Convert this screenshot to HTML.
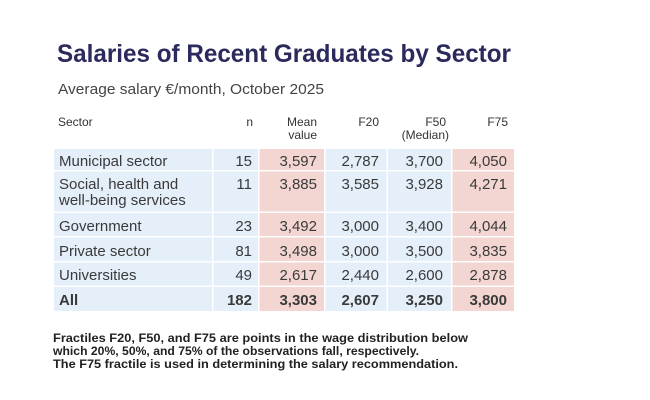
<!DOCTYPE html>
<html><head><meta charset="utf-8"><style>
html,body{margin:0;padding:0;background:#fff;}
svg{display:block}
text{font-family:"Liberation Sans",sans-serif;}
</style></head><body>
<svg width="650" height="400" viewBox="0 0 650 400" xmlns="http://www.w3.org/2000/svg">
<rect width="650" height="400" fill="#fff"/>
<text x="57" y="62" font-size="25" font-weight="bold" fill="#2b2a5c" textLength="454" lengthAdjust="spacingAndGlyphs">Salaries of Recent Graduates by Sector</text>
<text x="58" y="94" font-size="15" fill="#444" textLength="266" lengthAdjust="spacingAndGlyphs">Average salary €/month, October 2025</text>
<g font-size="12" fill="#333">
<text x="58" y="126">Sector</text>
<text x="253" y="126" text-anchor="end">n</text>
<text x="317" y="126" text-anchor="end">Mean</text>
<text x="317" y="139" text-anchor="end">value</text>
<text x="379" y="126" text-anchor="end">F20</text>
<text x="446" y="126" text-anchor="end">F50</text>
<text x="449" y="139" text-anchor="end">(Median)</text>
<text x="508" y="126" text-anchor="end">F75</text>
</g>
<g>
<!-- rows: y ranges -->
<g fill="#e4eff9">
<rect x="54" y="149" width="158" height="21"/><rect x="213.5" y="149" width="44.5" height="21"/><rect x="325.5" y="149" width="61" height="21"/><rect x="388" y="149" width="63" height="21"/>
<rect x="54" y="171.5" width="158" height="40"/><rect x="213.5" y="171.5" width="44.5" height="40"/><rect x="325.5" y="171.5" width="61" height="40"/><rect x="388" y="171.5" width="63" height="40"/>
<rect x="54" y="213" width="158" height="23"/><rect x="213.5" y="213" width="44.5" height="23"/><rect x="325.5" y="213" width="61" height="23"/><rect x="388" y="213" width="63" height="23"/>
<rect x="54" y="237.5" width="158" height="23.5"/><rect x="213.5" y="237.5" width="44.5" height="23.5"/><rect x="325.5" y="237.5" width="61" height="23.5"/><rect x="388" y="237.5" width="63" height="23.5"/>
<rect x="54" y="262.5" width="158" height="23"/><rect x="213.5" y="262.5" width="44.5" height="23"/><rect x="325.5" y="262.5" width="61" height="23"/><rect x="388" y="262.5" width="63" height="23"/>
<rect x="54" y="287" width="158" height="24"/><rect x="213.5" y="287" width="44.5" height="24"/><rect x="325.5" y="287" width="61" height="24"/><rect x="388" y="287" width="63" height="24"/>
</g>
<g fill="#f3d6d1">
<rect x="259.5" y="149" width="64.5" height="21"/><rect x="452.5" y="149" width="61.5" height="21"/>
<rect x="259.5" y="171.5" width="64.5" height="40"/><rect x="452.5" y="171.5" width="61.5" height="40"/>
<rect x="259.5" y="213" width="64.5" height="23"/><rect x="452.5" y="213" width="61.5" height="23"/>
<rect x="259.5" y="237.5" width="64.5" height="23.5"/><rect x="452.5" y="237.5" width="61.5" height="23.5"/>
<rect x="259.5" y="262.5" width="64.5" height="23"/><rect x="452.5" y="262.5" width="61.5" height="23"/>
<rect x="259.5" y="287" width="64.5" height="24"/><rect x="452.5" y="287" width="61.5" height="24"/>
</g>
</g>
<g font-size="15" fill="#3a3a3a">
<text x="59" y="166">Municipal sector</text>
<text x="59" y="189">Social, health and</text>
<text x="59" y="205">well-being services</text>
<text x="59" y="231">Government</text>
<text x="59" y="256">Private sector</text>
<text x="59" y="280">Universities</text>
<text x="59" y="305" font-weight="bold">All</text>
<g text-anchor="end">
<text x="252" y="166">15</text><text x="317" y="166">3,597</text><text x="379" y="166">2,787</text><text x="443" y="166">3,700</text><text x="507" y="166">4,050</text>
<text x="252" y="189">11</text><text x="317" y="189">3,885</text><text x="379" y="189">3,585</text><text x="443" y="189">3,928</text><text x="507" y="189">4,271</text>
<text x="252" y="231">23</text><text x="317" y="231">3,492</text><text x="379" y="231">3,000</text><text x="443" y="231">3,400</text><text x="507" y="231">4,044</text>
<text x="252" y="256">81</text><text x="317" y="256">3,498</text><text x="379" y="256">3,000</text><text x="443" y="256">3,500</text><text x="507" y="256">3,835</text>
<text x="252" y="280">49</text><text x="317" y="280">2,617</text><text x="379" y="280">2,440</text><text x="443" y="280">2,600</text><text x="507" y="280">2,878</text>
<g font-weight="bold"><text x="252" y="305">182</text><text x="317" y="305">3,303</text><text x="379" y="305">2,607</text><text x="443" y="305">3,250</text><text x="507" y="305">3,800</text></g>
</g>
</g>
<g font-size="11.5" font-weight="bold" fill="#222">
<text x="53" y="342" textLength="415" lengthAdjust="spacingAndGlyphs">Fractiles F20, F50, and F75 are points in the wage distribution below</text>
<text x="53" y="355" textLength="366" lengthAdjust="spacingAndGlyphs">which 20%, 50%, and 75% of the observations fall, respectively.</text>
<text x="53" y="368" textLength="405" lengthAdjust="spacingAndGlyphs">The F75 fractile is used in determining the salary recommendation.</text>
</g>
</svg>
</body></html>
